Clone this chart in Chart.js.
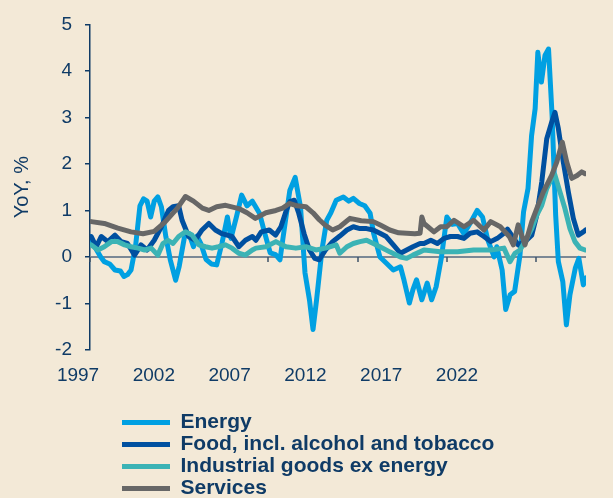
<!DOCTYPE html>
<html>
<head>
<meta charset="utf-8">
<script src="https://cdn.jsdelivr.net/npm/chart.js@4.4.1/dist/chart.umd.min.js"></script>
<style>
  html, body { margin: 0; padding: 0; background: #F3E9D7; }
  #wrap { width: 613px; height: 498px; position: relative; background: #F3E9D7; }
</style>
</head>
<body>
<div id="wrap"><canvas id="chart"></canvas></div>
<script>
// ---------------- DATA ----------------
const seriesNames = ['Energy', 'Food, incl. alcohol and tobacco', 'Industrial goods ex energy', 'Services'];
const tickYears = [1997, 2002, 2007, 2012, 2017, 2022];

const energyYears = [
  1997.0,1997.3,1997.6,1997.8,1998.1,1998.4,1998.7,1998.9,1999.1,1999.3,
  1999.55,1999.8,2000.0,2000.2,2000.4,2000.6,2000.8,2001.0,2001.25,2001.5,
  2001.8,2002.0,2002.3,2002.55,2002.8,2003.0,2003.2,2003.5,2003.8,2004.1,
  2004.4,2004.7,2004.9,2005.2,2005.5,2005.8,2006.1,2006.5,2006.8,2007.1,
  2007.4,2007.65,2007.8,2008.0,2008.2,2008.5,2008.8,2009.05,2009.3,2009.5,
  2009.7,2010.0,2010.27,2010.5,2010.8,2011.2,2011.5,2011.76,2012.1,2012.4,
  2012.7,2012.9,2013.25,2013.6,2014.0,2014.4,2014.6,2014.9,2015.1,2015.3,
  2015.6,2015.9,2016.15,2016.4,2016.7,2017.0,2017.3,2017.6,2017.95,2018.3,
  2018.7,2019.0,2019.3,2019.65,2019.8,2020.1,2020.3,2020.55,2020.8,2021.1,
  2021.3,2021.55,2021.75,2021.95,2022.1,2022.3,2022.5,2022.7,2022.9,2023.1,
  2023.25,2023.5,2023.7,2023.9,2024.2,2024.4,2024.65,2024.8];
const energyValues = [
  0.44,0.2,0.0,-0.1,-0.15,-0.28,-0.3,-0.42,-0.38,-0.28,
  0.22,1.1,1.25,1.2,0.86,1.2,1.29,1.08,0.44,-0.06,
  -0.5,-0.2,0.44,0.5,0.22,0.45,0.3,-0.05,-0.15,-0.17,
  0.3,0.86,0.4,0.85,1.33,1.1,1.2,0.94,0.5,0.09,
  0.05,-0.06,0.36,0.9,1.43,1.71,1.07,-0.34,-0.92,-1.56,
  -0.92,0.15,0.79,0.95,1.22,1.29,1.2,1.26,1.15,1.1,
  0.94,0.5,0.0,-0.13,-0.28,-0.21,-0.5,-0.99,-0.7,-0.49,
  -0.92,-0.56,-0.92,-0.64,0.0,0.86,0.7,0.72,0.5,0.72,
  1.0,0.86,0.36,0.0,0.22,-0.28,-1.13,-0.81,-0.74,0.04,
  0.97,1.47,2.61,3.19,4.4,3.76,4.33,4.47,3.04,0.9,
  -0.1,-0.53,-1.46,-0.81,-0.24,-0.03,-0.6,-0.45];

const foodYears = [
  1997.07,1997.35,1997.63,1998.0,1998.4,1998.75,1999.1,1999.5,1999.86,2000.2,
  2000.6,2001.0,2001.4,2001.65,2001.97,2002.16,2002.53,2002.9,2003.28,2003.66,
  2004.03,2004.4,2004.96,2005.34,2005.71,2006.1,2006.3,2006.6,2007.05,2007.4,
  2007.7,2008.0,2008.2,2008.45,2008.7,2009.0,2009.3,2009.6,2009.85,2010.2,
  2010.6,2011.0,2011.4,2011.76,2012.13,2012.5,2012.88,2013.25,2013.6,2014.0,
  2014.4,2014.75,2015.1,2015.5,2015.72,2016.1,2016.47,2016.84,2017.2,2017.6,
  2017.96,2018.3,2018.7,2019.08,2019.46,2019.83,2020.2,2020.4,2020.63,2021.0,
  2021.38,2021.76,2022.04,2022.32,2022.6,2022.88,2023.06,2023.25,2023.53,2023.81,
  2024.09,2024.37,2024.65,2024.78];
const foodValues = [
  0.44,0.22,0.44,0.33,0.47,0.33,0.29,0.04,0.26,0.15,
  0.36,0.65,1.0,1.08,1.1,0.79,0.44,0.36,0.58,0.72,
  0.58,0.5,0.44,0.22,0.36,0.44,0.36,0.54,0.58,0.47,
  0.65,1.0,1.19,1.22,0.94,0.5,0.15,-0.03,-0.06,0.15,
  0.33,0.45,0.58,0.65,0.61,0.61,0.58,0.51,0.44,0.26,
  0.08,0.15,0.22,0.29,0.29,0.36,0.29,0.4,0.44,0.44,
  0.4,0.51,0.54,0.44,0.33,0.4,0.51,0.6,0.47,0.26,
  0.33,0.47,0.9,1.61,2.54,2.9,3.11,2.76,2.04,1.4,
  0.83,0.47,0.54,0.58];

const industrialYears = [
  1997.07,1997.44,1997.8,1998.2,1998.56,1998.94,1999.3,1999.7,2000.06,2000.43,
  2000.8,2001.09,2001.37,2001.65,2001.97,2002.35,2002.72,2003.1,2003.47,2003.84,
  2004.2,2004.6,2004.96,2005.34,2005.71,2006.1,2006.3,2006.86,2007.42,2007.98,
  2008.54,2009.1,2009.66,2010.2,2010.8,2011.0,2011.4,2011.76,2012.13,2012.5,
  2012.88,2013.25,2013.8,2014.4,2014.75,2015.1,2015.5,2015.72,2016.65,2017.6,
  2018.5,2019.46,2020.2,2020.54,2020.82,2021.1,2021.38,2021.76,2022.04,2022.32,
  2022.6,2022.88,2023.06,2023.34,2023.62,2023.9,2024.18,2024.46,2024.75];
const industrialValues = [
  0.26,0.15,0.22,0.33,0.33,0.26,0.22,0.19,0.15,0.19,
  0.04,0.29,0.36,0.29,0.44,0.54,0.47,0.26,0.22,0.19,
  0.22,0.26,0.19,0.08,0.04,0.15,0.19,0.22,0.33,0.22,
  0.19,0.22,0.15,0.19,0.26,0.08,0.22,0.29,0.33,0.36,
  0.29,0.22,0.11,0.0,-0.03,0.04,0.11,0.15,0.11,0.11,
  0.15,0.15,0.19,-0.1,0.08,0.15,0.33,0.61,0.9,1.11,
  1.47,1.69,1.76,1.4,1.04,0.61,0.33,0.19,0.15];

const servicesYears = [
  1997.07,1997.8,1998.56,1999.3,1999.97,2000.6,2001.2,2001.55,2001.9,2002.35,
  2002.8,2003.3,2003.66,2004.1,2004.6,2005.34,2005.8,2006.27,2006.86,2007.42,
  2007.8,2008.17,2008.6,2009.1,2009.5,2009.85,2010.2,2010.6,2011.0,2011.57,
  2012.2,2012.88,2013.3,2013.8,2014.3,2014.75,2015.2,2015.5,2015.6,2015.72,
  2016.28,2016.65,2017.0,2017.4,2017.96,2018.5,2019.08,2019.46,2020.0,2020.26,
  2020.5,2020.73,2021.0,2021.38,2021.76,2022.04,2022.41,2022.88,2023.16,2023.47,
  2023.72,2024.0,2024.3,2024.56,2024.75];
const servicesValues = [
  0.76,0.72,0.62,0.54,0.5,0.55,0.75,0.9,1.05,1.3,
  1.2,1.05,1.0,1.08,1.11,1.04,0.95,0.83,0.95,1.0,
  1.05,1.15,1.1,1.08,0.95,0.8,0.68,0.58,0.65,0.83,
  0.78,0.76,0.68,0.58,0.52,0.51,0.5,0.51,0.86,0.72,
  0.54,0.65,0.65,0.79,0.65,0.79,0.58,0.76,0.65,0.54,
  0.44,0.26,0.69,0.26,0.76,1.04,1.4,1.76,2.04,2.47,
  2.04,1.69,1.75,1.83,1.79];

// ---------------- STYLE ----------------
const NAVY = '#0F3B66';
const ZERO_LINE = '#7B8895';
const ZERO_TICK = '#3E5269';
const COLORS = ['#00A0E2', '#0050A0', '#3BB3B5', '#676767'];
const FONT = "'Liberation Sans', Arial, Helvetica, sans-serif";
Chart.defaults.font.family = FONT;

const toPoints = (xs, ys) => xs.map((x, i) => ({ x: x, y: ys[i] }));
const seriesData = [
  toPoints(energyYears, energyValues),
  toPoints(foodYears, foodValues),
  toPoints(industrialYears, industrialValues),
  toPoints(servicesYears, servicesValues)
];

const datasets = seriesNames.map((name, i) => ({
  label: name,
  data: seriesData[i],
  borderColor: COLORS[i],
  backgroundColor: COLORS[i],
  borderWidth: 5,
  borderCapStyle: 'round',
  borderJoinStyle: 'round',
  pointRadius: 0,
  tension: 0,
  order: seriesNames.length - 1 - i   // later series drawn on top
}));

// Zero line (under the data) with small tick marks below it, positioned via the scales
const zeroAxis = {
  id: 'zeroAxis',
  beforeDatasetsDraw(chart) {
    const ctx = chart.ctx;
    const x = chart.scales.x, y = chart.scales.y;
    const y0 = Math.round(y.getPixelForValue(0));
    ctx.save();
    ctx.strokeStyle = ZERO_LINE;
    ctx.lineWidth = 2;
    ctx.beginPath();
    ctx.moveTo(chart.chartArea.left, y0);
    ctx.lineTo(chart.chartArea.right, y0);
    ctx.stroke();
    ctx.strokeStyle = ZERO_TICK;
    ctx.lineWidth = 1.5;
    for (const v of tickYears) {
      const px = Math.round(x.getPixelForValue(v));
      ctx.beginPath();
      ctx.moveTo(px, y0);
      ctx.lineTo(px, y0 + 5);
      ctx.stroke();
    }
    ctx.restore();
  }
};

// Legend: one item per row, placed under the axis labels
const LEGEND_LEFT = 121, LEGEND_W = 420, LEGEND_TOP = 411;
const legendLayout = {
  id: 'legendLayout',
  beforeUpdate(chart) {
    const lg = chart.legend;
    if (lg && !lg.__patched) {
      const fit = lg.fit;
      lg.fit = function () {
        const mw = this.maxWidth;
        this.maxWidth = Math.min(mw, LEGEND_W);
        fit.call(this);
        this.maxWidth = mw;
      };
      lg.__patched = true;
    }
  },
  afterLayout(chart) {
    const lg = chart.legend;
    if (!lg) return;
    const h = lg.height;
    lg.left = LEGEND_LEFT; lg.right = LEGEND_LEFT + LEGEND_W; lg.width = LEGEND_W;
    lg.top = LEGEND_TOP; lg.bottom = LEGEND_TOP + h;
  }
};

new Chart(document.getElementById('chart'), {
  type: 'line',
  data: { datasets: datasets },
  plugins: [legendLayout, zeroAxis],
  options: {
    responsive: true,
    maintainAspectRatio: false,
    animation: false,
    layout: { padding: { top: 23, right: 27, bottom: 0, left: 0 } },
    plugins: {
      tooltip: { enabled: false },
      legend: {
        position: 'bottom',
        align: 'start',
        labels: {
          usePointStyle: true,
          pointStyle: 'line',
          pointStyleWidth: 48,
          padding: 1,
          color: NAVY,
          font: { family: FONT, size: 21, weight: 'bold' },
          sort: (a, b) => a.datasetIndex - b.datasetIndex
        }
      }
    },
    scales: {
      x: { type: 'linear', display: false, min: 1997, max: 2024.8 },
      xl: {
        type: 'linear', axis: 'x', position: 'bottom',
        min: 1997.79, max: 2030.51,
        afterBuildTicks: (s) => { s.ticks = tickYears.map(v => ({ value: v })); },
        afterFit: (s) => { s.height = 50; },
        ticks: {
          autoSkip: false, maxRotation: 0, minRotation: 0, padding: 14,
          color: NAVY, font: { family: FONT, size: 19 },
          callback: (v) => String(v)
        },
        grid: { display: false, drawTicks: false },
        border: { display: false }
      },
      y: {
        min: -2, max: 5,
        afterFit: (s) => { s.width = 90; },
        ticks: { stepSize: 1, padding: 13, color: NAVY, font: { family: FONT, size: 19 } },
        grid: { drawOnChartArea: false, drawTicks: true, tickLength: 5, color: NAVY, lineWidth: 1.5 },
        border: { display: true, color: NAVY, width: 1.5 },
        title: { display: true, text: 'YoY, %', color: NAVY, font: { family: FONT, size: 20 }, padding: { top: 10, bottom: 0 } }
      }
    }
  }
});
</script>
</body>
</html>
